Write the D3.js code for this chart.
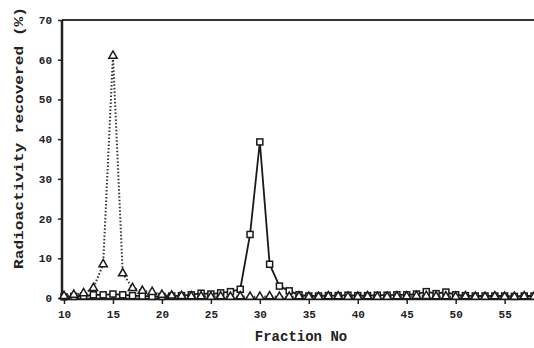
<!DOCTYPE html>
<html>
<head>
<meta charset="utf-8">
<script src="https://cdn.jsdelivr.net/npm/d3@7"></script>
<style>
  body { margin: 0; background: #fff; }
  text { font-family: "Liberation Mono", "DejaVu Sans Mono", monospace; font-weight: bold; fill: #222; }
</style>
</head>
<body>
<div id="graphSection"></div>
<script>
// fraction numbers 10..58
var fractions = [10,11,12,13,14,15,16,17,18,19,20,21,22,23,24,25,26,27,28,29,30,31,32,33,34,
                 35,36,37,38,39,40,41,42,43,44,45,46,47,48,49,50,51,52,53,54,55,56,57,58];

// triangles, dotted line
var triValues = [0.5,0.8,1.2,2.5,8.5,61,6.2,2.5,1.8,1.5,0.8,0.6,0.5,0.4,0.4,0.3,0.4,0.3,0.4,0.3,0.3,0.4,0.3,0.3,0.4,
                 0.3,0.3,0.4,0.4,0.3,0.3,0.4,0.3,0.3,0.4,0.4,0.5,0.5,0.4,0.4,0.3,0.4,0.3,0.3,0.4,0.3,0.3,0.4,0.3];

// squares, solid line
var sqValues = [0.3,0.4,0.5,0.8,0.8,1.0,0.8,0.6,0.5,0.4,0.4,0.5,0.6,0.8,1.2,1.0,1.3,1.6,2.2,16,39.3,8.5,3,1.8,0.8,
                0.5,0.5,0.6,0.6,0.7,0.6,0.6,0.7,0.7,0.8,0.8,1.0,1.6,1.1,1.5,0.8,0.6,0.5,0.5,0.5,0.5,0.4,0.5,0.5];

var xTicks = [10,15,20,25,30,35,40,45,50,55];
var yTicks = [0,10,20,30,40,50,60,70];

const WIDTH = 534;
const HEIGHT = 348;
const LEFT = 62;
const TOP = 20;
const BASE = 299;

var svg = d3.select("#graphSection")
    .append("svg")
    .attr("width", WIDTH)
    .attr("height", HEIGHT);

svg.append("rect").attr("width", WIDTH).attr("height", HEIGHT).attr("fill", "#fff");

var xScale = d3.scaleLinear().domain([10, 58]).range([64, 534]),
    yScale = d3.scaleLinear().domain([0, 70]).range([298, 20]);

// frame: top line and left axis
svg.append("line")
    .attr("x1", LEFT).attr("x2", WIDTH).attr("y1", TOP).attr("y2", TOP)
    .attr("stroke", "#333").attr("stroke-width", 2);

var yAxis = svg.append("g")
    .attr("transform", "translate(" + LEFT + ",0)")
    .call(d3.axisLeft(yScale).tickValues(yTicks).tickSize(4).tickPadding(6));
yAxis.select(".domain").attr("stroke", "#222").attr("stroke-width", 2.5)
    .attr("d", "M0," + TOP + "V" + BASE);
yAxis.selectAll(".tick line").attr("stroke", "#222").attr("stroke-width", 1.5);
yAxis.selectAll(".tick text").style("font-size", "11px").attr("fill", "#222");

var xAxis = svg.append("g")
    .attr("transform", "translate(0," + BASE + ")")
    .call(d3.axisBottom(xScale).tickValues(xTicks).tickSize(5).tickPadding(6));
xAxis.select(".domain").attr("stroke", "#222").attr("stroke-width", 2.5)
    .attr("d", "M" + LEFT + ",0H" + WIDTH);
xAxis.selectAll(".tick line").attr("stroke", "#222").attr("stroke-width", 1.5).attr("y1", -4);
xAxis.selectAll(".tick text").style("font-size", "11px").attr("fill", "#222");

// axis titles
svg.append("text")
    .attr("x", 301).attr("y", 341)
    .attr("text-anchor", "middle")
    .style("font-size", "14px")
    .text("Fraction No");

svg.append("text")
    .attr("transform", "translate(23,138) rotate(-90)")
    .attr("text-anchor", "middle")
    .attr("textLength", 262)
    .attr("lengthAdjust", "spacingAndGlyphs")
    .style("font-size", "13px")
    .text("Radioactivity recovered (%)");

var triData = fractions.map(function (f, i) { return [f, triValues[i]]; });
var sqData = fractions.map(function (f, i) { return [f, sqValues[i]]; });

var line = d3.line()
    .x(function (d) { return xScale(d[0]); })
    .y(function (d) { return yScale(d[1]); });

// square series
svg.append("path")
    .datum(sqData)
    .attr("d", line)
    .attr("fill", "none")
    .attr("stroke", "#1a1a1a")
    .attr("stroke-width", 1.8);

svg.append("g")
    .selectAll("rect")
    .data(sqData)
    .enter()
    .append("rect")
    .attr("x", function (d) { return xScale(d[0]) - 3; })
    .attr("y", function (d) { return yScale(d[1]) - 3; })
    .attr("width", 6)
    .attr("height", 6)
    .attr("fill", "#fff")
    .attr("stroke", "#1a1a1a")
    .attr("stroke-width", 1.5);

// triangle series
svg.append("path")
    .datum(triData)
    .attr("d", line)
    .attr("fill", "none")
    .attr("stroke", "#333")
    .attr("stroke-width", 2)
    .attr("stroke-dasharray", "1.5,2");

var tri = d3.symbol().type(d3.symbolTriangle).size(30);
svg.append("g")
    .selectAll("path")
    .data(triData)
    .enter()
    .append("path")
    .attr("d", tri)
    .attr("transform", function (d) { return "translate(" + xScale(d[0]) + "," + yScale(d[1]) + ")"; })
    .attr("fill", "#fff")
    .attr("stroke", "#1a1a1a")
    .attr("stroke-width", 1.5);
</script>
</body>
</html>
